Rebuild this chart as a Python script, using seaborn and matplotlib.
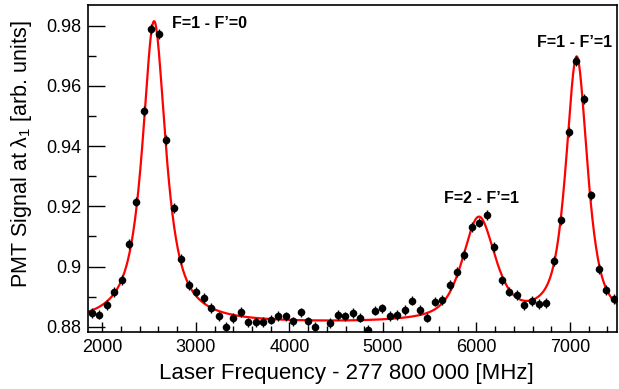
import numpy as np
import pandas as pd
import matplotlib
matplotlib.use('Agg')
import matplotlib.pyplot as plt
import seaborn as sns

# measured points (one bin at 4358 MHz falls below the frame, not drawn)
freq = [1887, 1967, 2046, 2126, 2206, 2286, 2365, 2445, 2525, 2604,
        2684, 2764, 2843, 2923, 3003, 3083, 3162, 3242, 3322, 3401,
        3481, 3561, 3640, 3720, 3800, 3880, 3959, 4039, 4119, 4198,
        4278, 4437, 4517, 4597, 4677, 4756, 4836, 4916, 4995,
        5075, 5155, 5235, 5314, 5394, 5474, 5553, 5633, 5713, 5792,
        5872, 5952, 6031, 6111, 6191, 6271, 6350, 6430, 6510, 6589,
        6669, 6749, 6828, 6908, 6988, 7068, 7147, 7227, 7307, 7386, 7466]
signal = [0.8845, 0.8841, 0.8873, 0.8915, 0.8955, 0.9074, 0.9216, 0.9517, 0.9788, 0.9771,
          0.9420, 0.9194, 0.9026, 0.8938, 0.8917, 0.8895, 0.8862, 0.8835, 0.8801, 0.8830,
          0.8850, 0.8815, 0.8815, 0.8816, 0.8824, 0.8836, 0.8835, 0.8818, 0.8848, 0.8818,
          0.8801, 0.8812, 0.8840, 0.8835, 0.8845, 0.8831, 0.8790, 0.8854, 0.8861,
          0.8837, 0.8840, 0.8856, 0.8887, 0.8856, 0.8831, 0.8884, 0.8890, 0.8939, 0.8983,
          0.9039, 0.9131, 0.9146, 0.9171, 0.9066, 0.8954, 0.8917, 0.8906, 0.8871, 0.8886,
          0.8876, 0.8879, 0.9019, 0.9153, 0.9446, 0.9682, 0.9556, 0.9236, 0.8991, 0.8923, 0.8892]
err = 0.0016

# fit parameters (pseudo-Voigt peaks on a flat baseline)
baseline = 0.8810
centers = [2553, 6026, 7072]
amps = [0.1003, 0.0343, 0.0878]
fwhms = [300, 420, 275]
etas = [0.9, 0.65, 0.75]
labels = ["F=1 - F\u2019=0", "F=2 - F\u2019=1", "F=1 - F\u2019=1"]
label_pos = [(3142, 0.9807), (6054, 0.9227), (7050, 0.9744)]

df = pd.DataFrame({'freq': freq, 'signal': signal})

xf = np.linspace(1850, 7500, 1200)
yf = np.full_like(xf, baseline)
for c, a, w, e in zip(centers, amps, fwhms, etas):
    h = w / 2
    lor = 1 / (1 + ((xf - c) / h) ** 2)
    gau = np.exp(-np.log(2) * ((xf - c) / h) ** 2)
    yf += a * (e * lor + (1 - e) * gau)
fit = pd.DataFrame({'freq': xf, 'signal': yf})

sns.set_theme(style='ticks')
plt.rcParams['font.family'] = ['Liberation Sans', 'DejaVu Sans']
plt.rcParams['mathtext.fontset'] = 'custom'
plt.rcParams['mathtext.rm'] = 'Liberation Sans'
plt.rcParams['text.color'] = 'black'
plt.rcParams['xtick.color'] = 'black'
plt.rcParams['ytick.color'] = 'black'

fig = plt.figure(figsize=(6.19, 3.89), dpi=100)
ax = fig.add_axes([0.1427, 0.1473, 0.8536, 0.8398])

sns.lineplot(data=fit, x='freq', y='signal', color='red', lw=1.6, ax=ax, zorder=2)
ax.errorbar(df['freq'], df['signal'], yerr=err, fmt='none', ecolor='black',
            elinewidth=1.0, capsize=0, zorder=3)
sns.scatterplot(data=df, x='freq', y='signal', color='black', s=30,
                edgecolor='black', linewidth=0, ax=ax, zorder=4)

for t, (x, y) in zip(labels, label_pos):
    ax.text(x, y, t, ha='center', va='center', fontsize=11.5, fontweight='bold', color='black')

ax.set_xlim(1850, 7500)
ax.set_ylim(0.8784, 0.9868)
ax.set_xticks([2000, 3000, 4000, 5000, 6000, 7000])
ax.set_xticks(np.arange(2000, 7500, 200), minor=True)
ax.set_yticks([0.88, 0.90, 0.92, 0.94, 0.96, 0.98])
ax.set_yticklabels(['0.88', '0.9', '0.92', '0.94', '0.96', '0.98'])
ax.set_yticks([0.89, 0.91, 0.93, 0.95, 0.97], minor=True)
ax.tick_params(axis='both', which='both', direction='in', labelsize=13, width=1,
               color='black', labelcolor='black')
ax.tick_params(axis='x', which='major', length=7, pad=5)
ax.tick_params(axis='x', which='minor', length=4)
ax.tick_params(axis='y', which='major', length=12, pad=5)
ax.tick_params(axis='y', which='minor', length=6)
for s in ax.spines.values():
    s.set_linewidth(1.2)
    s.set_color('black')
ax.set_xlabel('')
ax.set_ylabel('')

fig.text(346 / 619, 1 - 373 / 389, 'Laser Frequency - 277 800 000 [MHz]',
         ha='center', va='center', fontsize=16, color='black')
fig.text(22 / 619, 1 - 20 / 389, 'PMT Signal at \u03bb$_1$ [arb. units]',
         ha='center', va='top', rotation=90, fontsize=15.5, color='black')

fig.savefig('out.png', dpi=100)
